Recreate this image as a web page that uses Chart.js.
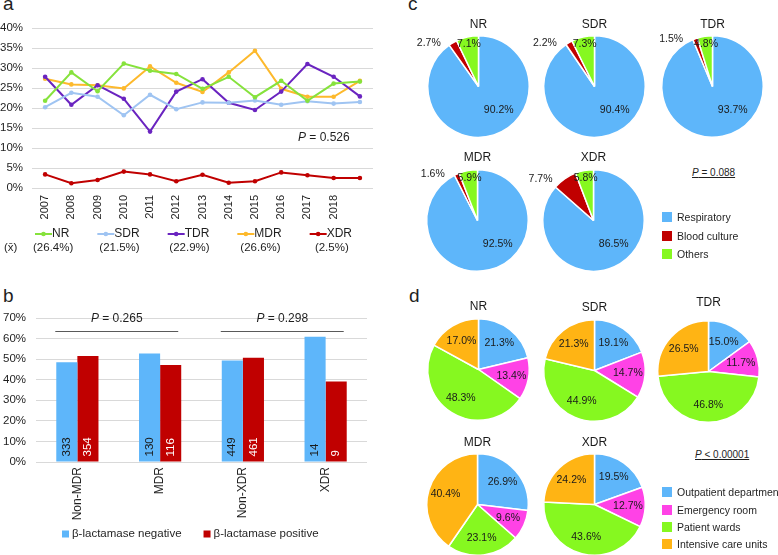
<!DOCTYPE html>
<html>
<head>
<meta charset="utf-8">
<script src="https://cdn.jsdelivr.net/npm/chart.js@4.4.0/dist/chart.umd.min.js"></script>
<style>
body{margin:0;background:#fff;font-family:"Liberation Sans",Arial,sans-serif;color:#1f1f1f}
#fig{position:relative;width:778px;height:555px;overflow:hidden;background:#fff}
canvas{position:absolute}
.tag{position:absolute;font-size:19px;line-height:1}
.note{position:absolute;font-size:10px;line-height:12px;text-decoration:underline;white-space:nowrap}
.row{position:absolute;font-size:10.5px;line-height:12px;white-space:nowrap}
.row i{display:inline-block;width:10px;height:10px;vertical-align:-1px;margin-right:5px}
</style>
</head>
<body>
<div id="fig">
  <div class="tag" style="left:3px;top:-6px">a</div>
  <div class="tag" style="left:3px;top:286px">b</div>
  <div class="tag" style="left:408px;top:-6px">c</div>
  <div class="tag" style="left:409px;top:286px">d</div>
  <div class="note" style="left:692px;top:167px"><em>P</em> = 0.088</div>
  <div class="note" style="left:695px;top:449px"><em>P</em> &lt; 0.00001</div>
  <canvas id="lineA" width="390" height="265" style="left:0;top:0"></canvas>
  <canvas id="barB" width="390" height="285" style="left:0;top:270px"></canvas>
</div>
<script>
const FONT = '"Liberation Sans", Arial, sans-serif';

// panel a: yearly share by resistance class
const years = ['2007','2008','2009','2010','2011','2012','2013','2014','2015','2016','2017','2018',''];
const seriesNames = ['NR','SDR','TDR','MDR','XDR'];
const nrRate  = [21.8, 28.9, 24.2, 31.1, 29.3, 28.5, 24.8, 27.8, 22.7, 26.8, 21.8, 26.1, 26.6];
const sdrRate = [20.2, 23.8, 22.8, 18.2, 23.3, 19.7, 21.4, 21.3, 21.9, 20.8, 21.7, 21.1, 21.5];
const tdrRate = [27.8, 20.8, 25.7, 22.3, 14.1, 24.1, 27.2, 21.3, 19.5, 24.1, 31.0, 27.8, 22.9];
const mdrRate = [27.3, 25.9, 25.7, 24.9, 30.4, 26.3, 24.0, 28.9, 34.3, 24.8, 22.8, 22.8, 26.8];
const xdrRate = [3.4, 1.2, 2.0, 4.1, 3.4, 1.7, 3.3, 1.3, 1.7, 3.9, 3.2, 2.5, 2.5];
const meanRates = [26.4, 21.5, 22.9, 26.6, 2.5];
const lineColors = ['#86e23c', '#9fc4f2', '#6a24c0', '#fdb92c', '#c00000'];

// panel b: beta-lactamase
const groups = ['Non-MDR', 'MDR', 'Non-XDR', 'XDR'];
const negPct = [48.5, 52.8, 49.3, 60.9];
const posPct = [51.5, 47.2, 50.7, 39.1];
const negCount = [333, 130, 449, 14];
const posCount = [354, 116, 461, 9];
const pairP = ['0.265', '0.298'];
const betaNames = ['\u03b2-lactamase negative', '\u03b2-lactamase positive'];
const betaColors = ['#5eb6fa', '#c00000'];

// panel c: specimen type
const sampleTypes = ['Respiratory', 'Blood culture', 'Others'];
const sampleColors = ['#5eb6fa', '#c00000', '#86f820'];
const sampleNR  = [90.2, 2.7, 7.1];
const sampleSDR = [90.4, 2.2, 7.3];
const sampleTDR = [93.7, 1.5, 4.8];
const sampleMDR = [92.5, 1.6, 5.9];
const sampleXDR = [86.5, 7.7, 5.8];

// panel d: ward
const wards = ['Outpatient department', 'Emergency room', 'Patient wards', 'Intensive care units'];
const wardColors = ['#5eb6fa', '#ff42e6', '#86f820', '#ffb414'];
const wardNR  = [21.3, 13.4, 48.3, 17.0];
const wardSDR = [19.1, 14.7, 44.9, 21.3];
const wardTDR = [15.0, 11.7, 46.8, 26.5];
const wardMDR = [26.9, 9.6, 23.1, 40.4];
const wardXDR = [19.5, 12.7, 43.6, 24.2];

Chart.defaults.font.family = FONT;
Chart.defaults.color = '#262626';

// ---------- a ----------
const lineExtras = {
  id: 'lineExtras',
  afterDraw(chart) {
    const ctx = chart.ctx, area = chart.chartArea;
    ctx.save();
    ctx.fillStyle = '#1f1f1f';
    ctx.textBaseline = 'middle';
    // P value
    let x = area.right - 75, y = chart.scales.y.getPixelForValue(12.5);
    ctx.font = 'italic 12px ' + FONT;
    ctx.fillText('P', x, y);
    x += ctx.measureText('P').width;
    ctx.font = '12px ' + FONT;
    ctx.fillText(' = 0.526', x, y);
    // legend with means
    let lx = 35;
    chart.data.datasets.forEach((ds, i) => {
      ctx.font = '12px ' + FONT;
      const tw = ctx.measureText(ds.label).width;
      ctx.strokeStyle = ds.borderColor; ctx.lineWidth = 2;
      ctx.beginPath(); ctx.moveTo(lx, 234); ctx.lineTo(lx + 17, 234); ctx.stroke();
      ctx.fillStyle = ds.borderColor;
      ctx.beginPath(); ctx.arc(lx + 8.5, 234, 2.3, 0, Math.PI * 2); ctx.fill();
      ctx.fillStyle = '#1f1f1f';
      ctx.textAlign = 'left';
      ctx.fillText(ds.label, lx + 17, 234);
      ctx.font = '11.5px ' + FONT;
      ctx.textAlign = 'center';
      ctx.fillText('(' + meanRates[i].toFixed(1) + '%)', lx + (17 + tw) / 2 + 1, 248);
      lx += 17 + tw + 28;
    });
    ctx.textAlign = 'left';
    ctx.font = '11.5px ' + FONT;
    ctx.fillText('(x\u0304)', 4, 248);
    ctx.restore();
  }
};

const rateSets = [nrRate, sdrRate, tdrRate, mdrRate, xdrRate];
new Chart(document.getElementById('lineA'), {
  type: 'line',
  data: {
    labels: years,
    datasets: rateSets.map((d, i) => ({
      label: seriesNames[i], data: d,
      borderColor: lineColors[i], backgroundColor: lineColors[i],
      borderWidth: 2, pointRadius: 2.3, pointBorderWidth: 0, tension: 0
    }))
  },
  options: {
    responsive: false, animation: false,
    layout: { padding: { top: 28, right: 17, left: 0, bottom: 0 } },
    plugins: { legend: { display: false }, tooltip: { enabled: false } },
    scales: {
      x: {
        offset: true,
        grid: { display: false, drawTicks: false },
        border: { display: false },
        ticks: { minRotation: 90, maxRotation: 90, padding: 7, autoSkip: false, font: { size: 11 }, color: '#1f1f1f' },
        afterFit: s => { s.height = 77; }
      },
      y: {
        min: 0, max: 40,
        grid: { color: '#d9d9d9', drawTicks: false },
        border: { display: false },
        ticks: { stepSize: 5, padding: 9, font: { size: 11.5 }, color: '#1f1f1f', callback: v => v + '%' },
        afterFit: s => { s.width = 32; }
      }
    }
  },
  plugins: [lineExtras]
});

// ---------- b ----------
const barExtras = {
  id: 'barExtras',
  afterDraw(chart) {
    const ctx = chart.ctx;
    const m0 = chart.getDatasetMeta(0), m1 = chart.getDatasetMeta(1);
    const counts = [negCount, posCount];
    ctx.save();
    ctx.font = '11.5px ' + FONT;
    ctx.textBaseline = 'middle';
    [m0, m1].forEach((meta, d) => {
      meta.data.forEach((bar, i) => {
        ctx.save();
        ctx.translate(bar.x, bar.base - 5);
        ctx.rotate(-Math.PI / 2);
        ctx.textAlign = 'left';
        ctx.fillStyle = d === 0 ? '#1a1a1a' : '#ffffff';
        ctx.fillText(String(counts[d][i]), 0, 0);
        ctx.restore();
      });
    });
    // brackets with P values
    const ys = chart.scales.y;
    pairP.forEach((p, k) => {
      const a = m0.data[2 * k], b = m1.data[2 * k + 1];
      const left = a.x - a.width / 2 - 1, right = b.x + b.width / 2 - 3;
      const ly = Math.round(ys.getPixelForValue(63.7)) + 0.5;
      ctx.strokeStyle = '#595959'; ctx.lineWidth = 1.2;
      ctx.beginPath(); ctx.moveTo(left, ly); ctx.lineTo(right, ly); ctx.stroke();
      ctx.fillStyle = '#1f1f1f';
      ctx.font = 'italic 12px ' + FONT;
      const w1 = ctx.measureText('P').width;
      ctx.font = '12px ' + FONT;
      const rest = ' = ' + p;
      const w2 = ctx.measureText(rest).width;
      const tx = (left + right) / 2 - (w1 + w2) / 2, ty = ys.getPixelForValue(69.5);
      ctx.textAlign = 'left';
      ctx.font = 'italic 12px ' + FONT;
      ctx.fillText('P', tx, ty);
      ctx.font = '12px ' + FONT;
      ctx.fillText(rest, tx + w1, ty);
    });
    // legend
    ctx.font = '11.5px ' + FONT;
    let lx = 62;
    chart.data.datasets.forEach(ds => {
      ctx.fillStyle = ds.backgroundColor;
      ctx.fillRect(lx, 260.5, 7, 7);
      ctx.fillStyle = '#1f1f1f';
      ctx.textAlign = 'left';
      ctx.fillText(ds.label, lx + 10, 264);
      lx += 10 + ctx.measureText(ds.label).width + 22;
    });
    ctx.restore();
  }
};

new Chart(document.getElementById('barB'), {
  type: 'bar',
  data: {
    labels: groups,
    datasets: [
      { label: betaNames[0], data: negPct, backgroundColor: betaColors[0] },
      { label: betaNames[1], data: posPct, backgroundColor: betaColors[1] }
    ]
  },
  options: {
    responsive: false, animation: false,
    layout: { padding: { top: 48, right: 23, left: 0, bottom: 0 } },
    plugins: { legend: { display: false }, tooltip: { enabled: false } },
    datasets: { bar: { categoryPercentage: 0.51, barPercentage: 1 } },
    scales: {
      x: {
        grid: { display: false, drawTicks: false },
        border: { display: false },
        ticks: { minRotation: 90, maxRotation: 90, padding: 5, font: { size: 12 }, color: '#1f1f1f' },
        afterFit: s => { s.height = 93; }
      },
      y: {
        min: 0, max: 70,
        grid: { color: '#d9d9d9', drawTicks: false },
        border: { display: false },
        ticks: { stepSize: 10, padding: 10, font: { size: 11.5 }, color: '#1f1f1f', callback: v => v + '%' },
        afterFit: s => { s.width = 36; }
      }
    }
  },
  plugins: [barExtras]
});

// ---------- pies ----------
const pieText = {
  id: 'pieText',
  afterDatasetsDraw(chart, args, opts) {
    const ctx = chart.ctx;
    const meta = chart.getDatasetMeta(0);
    const vals = chart.data.datasets[0].data;
    ctx.save();
    ctx.textAlign = 'center';
    ctx.textBaseline = 'middle';
    ctx.fillStyle = '#1a1a1a';
    ctx.font = '10.5px ' + FONT;
    meta.data.forEach((arc, i) => {
      const R = arc.outerRadius;
      let ang = (arc.startAngle + arc.endAngle) / 2, r = R * 0.66, dx = 0;
      if (opts.mode === 'sample') {
        if (i === 0) { ang = 50 * Math.PI / 180; r = R * 0.62; }
        else if (i === 1) { r = R; dx = -24; }
        else { r = R * 0.85; }
      }
      ctx.fillText(vals[i].toFixed(1) + '%', arc.x + Math.cos(ang) * r + dx, arc.y + Math.sin(ang) * r);
    });
    const a0 = meta.data[0];
    ctx.font = '12px ' + FONT;
    ctx.fillText(opts.title, a0.x, a0.y - a0.outerRadius - opts.gap);
    ctx.restore();
  }
};

const fig = document.getElementById('fig');
function makePie(title, values, colors, cx, cy, mode, gap) {
  const cv = document.createElement('canvas');
  cv.width = 160; cv.height = 140;
  cv.style.left = (cx - 79.5) + 'px';
  cv.style.top = (cy - 81.5) + 'px';
  fig.appendChild(cv);
  new Chart(cv, {
    type: 'pie',
    data: { labels: mode === 'sample' ? sampleTypes : wards,
      datasets: [{ data: values, backgroundColor: colors, borderColor: '#ffffff', borderWidth: 1.5 }] },
    options: {
      responsive: false, animation: false,
      layout: { padding: { left: 28, right: 29, top: 30, bottom: 7 } },
      plugins: { legend: { display: false }, tooltip: { enabled: false },
        pieText: { title: title, mode: mode, gap: gap } }
    },
    plugins: [pieText]
  });
}

makePie('NR',  sampleNR,  sampleColors, 478, 86.5, 'sample', 11.5);
makePie('SDR', sampleSDR, sampleColors, 594.5, 86.5, 'sample', 11.5);
makePie('TDR', sampleTDR, sampleColors, 712, 86.5, 'sample', 11.5);
makePie('MDR', sampleMDR, sampleColors, 477.5, 220, 'sample', 12);
makePie('XDR', sampleXDR, sampleColors, 593.5, 220, 'sample', 12);

makePie('NR',  wardNR,  wardColors, 478, 369, 'ward', 12.5);
makePie('SDR', wardSDR, wardColors, 594, 370, 'ward', 12.5);
makePie('TDR', wardTDR, wardColors, 708.5, 371, 'ward', 18);
makePie('MDR', wardMDR, wardColors, 477.5, 504, 'ward', 11);
makePie('XDR', wardXDR, wardColors, 594, 504, 'ward', 11);

// legends for c and d
function legend(names, colors, x, rows) {
  names.forEach((n, i) => {
    const d = document.createElement('div');
    d.className = 'row';
    d.style.left = x + 'px';
    d.style.top = (rows[i] - 6) + 'px';
    d.innerHTML = '<i style="background:' + colors[i] + '"></i>' + n;
    fig.appendChild(d);
  });
}
legend(sampleTypes, sampleColors, 662, [217, 235.5, 253.5]);
legend(wards, wardColors, 662, [491.5, 509.5, 526.5, 543.5]);
</script>
</body>
</html>
